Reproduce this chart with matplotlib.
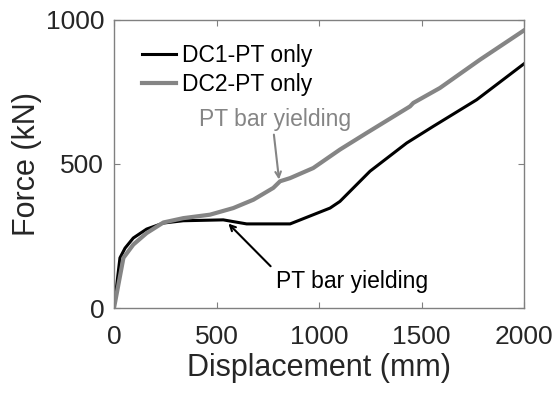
import matplotlib
matplotlib.use("Agg")
import matplotlib.pyplot as plt

plt.rcParams["font.family"] = ["Liberation Sans", "DejaVu Sans"]

# DC1-PT only
dc1_x = [0, 29, 54, 94, 159, 241, 338, 533, 647, 859, 1054, 1102, 1249, 1428, 1558, 1769, 2000]
dc1_y = [0, 174, 208, 243, 274, 295, 303, 306, 292, 292, 347, 370, 475, 573, 631, 723, 848]

# DC2-PT only
dc2_x = [0, 46, 94, 159, 241, 338, 468, 582, 680, 777, 810, 859, 972, 1102, 1233, 1444, 1460, 1590, 1785, 2000]
dc2_y = [0, 174, 220, 260, 297, 312, 324, 347, 376, 417, 440, 451, 486, 550, 608, 700, 712, 764, 862, 964]

xticks = [0, 500, 1000, 1500, 2000]
yticks = [0, 500, 1000]

fig = plt.figure(figsize=(5.59, 3.94), dpi=100)
ax = fig.add_axes([114 / 559, 1 - 308 / 394, 410 / 559, 288 / 394])

ax.plot(dc1_x, dc1_y, color="black", lw=2.2, label="DC1-PT only")
ax.plot(dc2_x, dc2_y, color="#858585", lw=3.0, label="DC2-PT only")

ax.set_xlim(0, 2000)
ax.set_ylim(0, 1000)
ax.set_xticks(xticks)
ax.set_yticks(yticks)
ax.tick_params(direction="in", top=True, right=True, length=4, color="#808080",
               labelsize=19, labelcolor="#262626", pad=7)
ax.tick_params(axis="x", pad=12)
for s in ax.spines.values():
    s.set_color("#808080")
    s.set_linewidth(1.0)

ax.set_xlabel("Displacement (mm)", fontsize=22, color="#262626", labelpad=3)
ax.set_ylabel("Force (kN)", fontsize=22, color="#262626", labelpad=3)

ax.legend(loc="upper left", frameon=False, fontsize=16.5, handlelength=1.5,
          handletextpad=0.25, labelspacing=0.3, borderaxespad=0.0,
          bbox_to_anchor=(0.045, 0.95))

# PT bar yielding, DC2
ax.text(415, 653, "PT bar yielding", color="#858585", fontsize=16.5, va="center", ha="left")
ax.annotate("", xy=(805, 446), xytext=(780, 602),
            arrowprops=dict(arrowstyle="->", color="#858585", lw=1.5,
                            shrinkA=0, shrinkB=0))

# PT bar yielding, DC1
ax.annotate("", xy=(558, 293), xytext=(764, 145),
            arrowprops=dict(arrowstyle="->", color="black", lw=1.5,
                            shrinkA=0, shrinkB=0))
ax.text(789, 93, "PT bar yielding", color="black", fontsize=16.5, va="center", ha="left")

fig.savefig("out.png", dpi=100)
